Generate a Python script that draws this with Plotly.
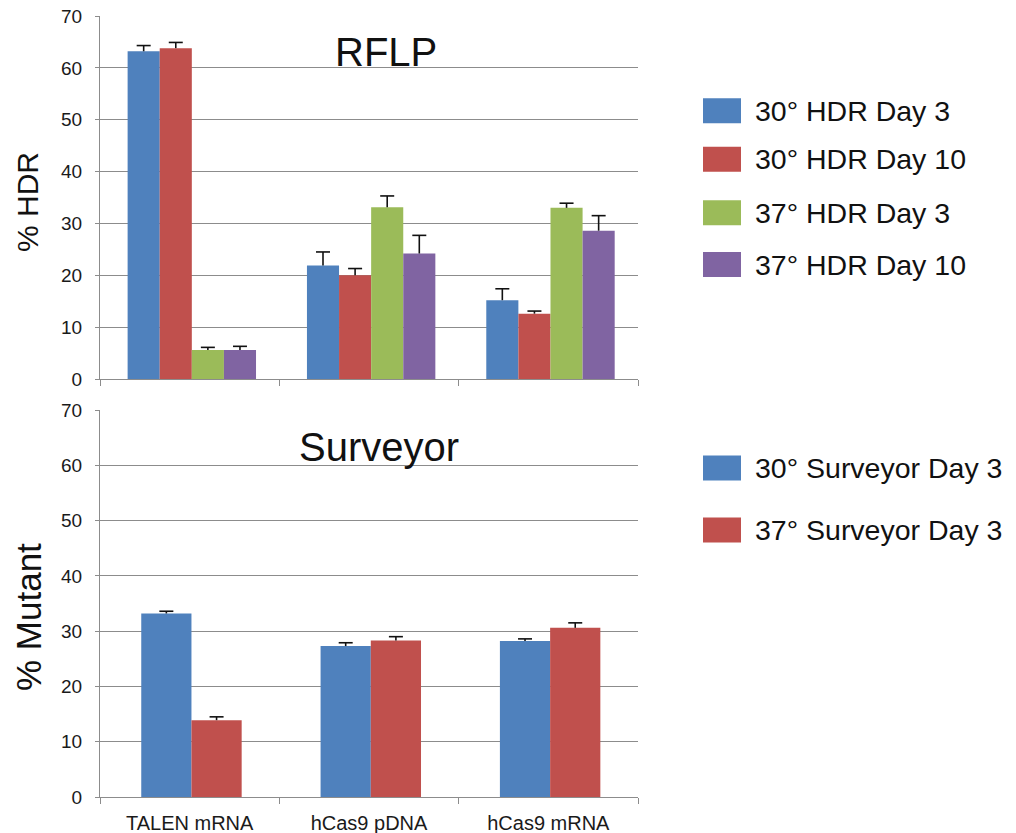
import plotly.graph_objects as go
from plotly.subplots import make_subplots

# ---- data -------------------------------------------------------------
categories = ["TALEN mRNA", "hCas9 pDNA", "hCas9 mRNA"]

hdr_names = ["30° HDR Day 3", "30° HDR Day 10", "37° HDR Day 3", "37° HDR Day 10"]
hdr_values = [
    [63.2, 21.9, 15.2],
    [63.8, 20.0, 12.6],
    [5.6, 33.1, 33.0],
    [5.6, 24.2, 28.6],
]
hdr_errors = [
    [1.1, 2.6, 2.2],
    [1.1, 1.3, 0.5],
    [0.5, 2.2, 0.9],
    [0.7, 3.5, 2.9],
]

surv_names = ["30° Surveyor Day 3", "37° Surveyor Day 3"]
surv_values = [
    [33.2, 27.3, 28.2],
    [13.9, 28.3, 30.6],
]
surv_errors = [
    [0.4, 0.6, 0.4],
    [0.6, 0.7, 0.9],
]

y_ticks = [0, 10, 20, 30, 40, 50, 60, 70]

# ---- styling ------------------------------------------------------------
hdr_colors = ["#4F81BD", "#C0504D", "#9BBB59", "#8064A2"]
surv_colors = ["#4F81BD", "#C0504D"]
FONT = "Arial, Liberation Sans, sans-serif"
GRID = "#8C8C8C"
INK = "#111111"

W, H = 1016, 833
ML, MR, MT, MB = 100, 378, 16, 36
plot_w = W - ML - MR
plot_h = H - MT - MB

fig = make_subplots(rows=2, cols=1, shared_xaxes=False, vertical_spacing=0.04)


def add_group(names, values, errors, colors, bar_w, shift, row):
    n = len(names)
    for i, (name, vals, errs, col) in enumerate(zip(names, values, errors, colors)):
        xs = [k + (i - (n - 1) / 2) * bar_w + shift for k in range(len(categories))]
        # bar with the upward error stem
        fig.add_trace(go.Bar(
            x=xs, y=vals, name=name, width=bar_w,
            marker=dict(color=col, line=dict(width=0)),
            error_y=dict(type="data", array=errs, arrayminus=[0] * len(errs),
                         symmetric=False, color=INK, thickness=1.6, width=0),
            showlegend=False, hoverinfo="y+name",
        ), row=row, col=1)
        # cap on top of each error stem
        fig.add_trace(go.Scatter(
            x=xs, y=[v + e for v, e in zip(vals, errs)], mode="markers",
            marker=dict(symbol="line-ew", size=10, line=dict(color=INK, width=1.6)),
            showlegend=False, hoverinfo="skip",
        ), row=row, col=1)


add_group(hdr_names, hdr_values, hdr_errors, hdr_colors, 0.179, 0.012, 1)
add_group(surv_names, surv_values, surv_errors, surv_colors, 0.28, 0.01, 2)

top_dom = [1 - 363 / plot_h, 1]
bot_dom = [0, 387 / plot_h]

cat_idx = list(range(len(categories)))
boundaries = [k - 0.5 for k in range(len(categories) + 1)]

fig.update_xaxes(
    range=[-0.5, len(categories) - 0.5], tickvals=cat_idx, ticktext=categories,
    ticks="", showgrid=False, zeroline=False, automargin=False,
    showline=True, linecolor=GRID, linewidth=1.3,
    minor=dict(tickvals=boundaries, ticks="outside", ticklen=6, tickcolor=GRID, showgrid=False),
    tickfont=dict(family=FONT, size=20, color="#1a1a1a"), ticklabelstandoff=8,
)
fig.update_xaxes(showticklabels=False, row=1, col=1)
fig.update_yaxes(
    range=[0, 70], tickvals=y_ticks, ticks="outside", ticklen=4, tickcolor=GRID,
    showline=True, linecolor=GRID, linewidth=1.3, automargin=False,
    showgrid=True, gridcolor=GRID, gridwidth=1.2, zeroline=False,
    tickfont=dict(family=FONT, size=19, color="#1a1a1a"), ticklabelstandoff=9,
)
fig.update_yaxes(domain=top_dom, row=1, col=1)
fig.update_yaxes(domain=bot_dom, row=2, col=1)


def px_x(px):
    return (px - ML) / plot_w


def px_y(py):
    return (H - MB - py) / plot_h


annotations = [
    dict(text="RFLP", x=px_x(386), y=px_y(52), font=dict(family=FONT, size=40, color=INK)),
    dict(text="Surveyor", x=px_x(379), y=px_y(447), font=dict(family=FONT, size=40, color=INK)),
    dict(text="% HDR", x=px_x(27), y=px_y(202), textangle=-90,
         font=dict(family=FONT, size=30, color=INK)),
    dict(text="% Mutant", x=px_x(28), y=px_y(617), textangle=-90,
         font=dict(family=FONT, size=35, color=INK)),
]
shapes = []


# legend blocks to the right of each panel
def legend_block(names, colors, centers):
    for name, col, cy in zip(names, colors, centers):
        shapes.append(dict(type="rect", xref="paper", yref="paper",
                           x0=px_x(703), x1=px_x(741), y0=px_y(cy + 12.5), y1=px_y(cy - 12.5),
                           fillcolor=col, line=dict(width=0)))
        annotations.append(dict(text=name, x=px_x(753), y=px_y(cy), xanchor="left",
                                font=dict(family=FONT, size=28.5, color=INK)))


legend_block(hdr_names, hdr_colors, [110.8, 159.2, 212.8, 264.5])
legend_block(surv_names, surv_colors, [468, 530])

for a in annotations:
    a.update(xref="paper", yref="paper", showarrow=False)
    a.setdefault("xanchor", "center")
    a.setdefault("yanchor", "middle")

fig.update_layout(
    width=W, height=H,
    margin=dict(l=ML, r=MR, t=MT, b=MB),
    paper_bgcolor="white", plot_bgcolor="white",
    barmode="overlay",
    annotations=annotations, shapes=shapes,
    showlegend=False,
)

fig.write_html("out.html")
